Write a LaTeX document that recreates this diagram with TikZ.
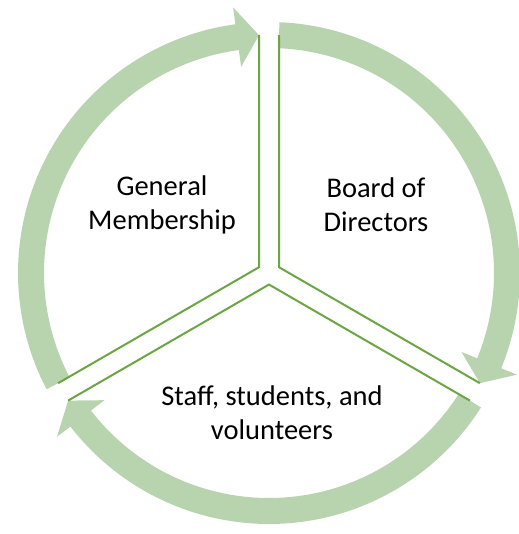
\documentclass[tikz,border=0pt]{standalone}
\usepackage{fontspec}
\setmainfont{Carlito}
\usepackage{tikz}
\usetikzlibrary{positioning}

\definecolor{ringgreen}{HTML}{B8D4AF}
\definecolor{linegreen}{HTML}{6BA544}

\begin{document}
\begin{tikzpicture}[x=1pt,y=1pt]
\tikzstyle{ring}=[fill=ringgreen, draw=none]
\tikzstyle{split}=[draw=linegreen, line width=2pt]
\tikzstyle{label}=[align=center, font=\fontsize{28.5}{34}\selectfont]
  \useasboundingbox (-269,-261) rectangle (249,273);
  % corners of the Y
  \coordinate (cl) at (-10,5.77);
  \coordinate (cr) at (10,5.77);
  \coordinate (cb) at (0,-11.55);
  % outer ends of the dividers
  \coordinate (topl) at (-10,237.8);
  \coordinate (topr) at (10,237.8);
  \coordinate (rightu) at (210.9,-110.2);
  \coordinate (rightd) at (200.9,-127.6);
  \coordinate (leftu) at (-210.9,-110.2);
  \coordinate (leftd) at (-200.9,-127.6);
  % arrows
  \fill[ring] (207.6:251) arc[start angle=207.6, end angle=97.7, radius=251]
    -- (97.7:268) -- (topl) -- (97.7:208) -- (97.7:225)
    arc[start angle=97.7, end angle=207.6, radius=225] -- cycle;
  \fill[ring] (87.6:251) arc[start angle=87.6, end angle=-22.3, radius=251]
    -- (-22.3:268) -- (rightu) -- (-22.3:208) -- (-22.3:225)
    arc[start angle=-22.3, end angle=87.6, radius=225] -- cycle;
  \fill[ring] (-32.4:251) arc[start angle=-32.4, end angle=-142.3, radius=251]
    -- (-142.3:268) -- (leftd) -- (-142.3:208) -- (-142.3:225)
    arc[start angle=-142.3, end angle=-32.4, radius=225] -- cycle;
  % dividers
  \draw[split] (topl) -- (cl) -- (leftu);
  \draw[split] (topr) -- (cr) -- (rightu);
  \draw[split] (leftd) -- (cb) -- (rightd);
  % texts
  \node[label] (member) at (-107,68) {General\\Membership};
  \node[label] (board) at (107,68) {Board of\\Directors};
  \node[label] (staff) at (3,-140) {Staff, students, and\\volunteers};
\end{tikzpicture}
\end{document}
